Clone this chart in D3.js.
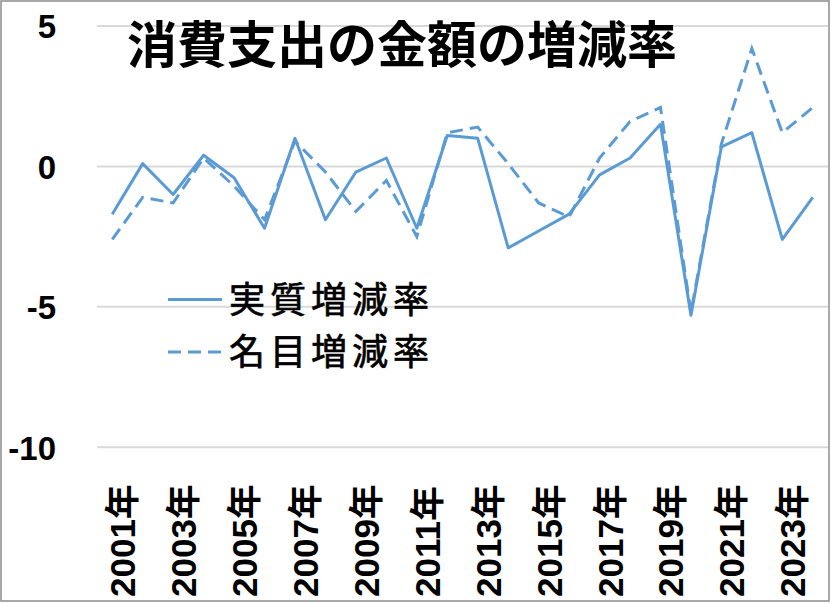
<!DOCTYPE html>
<html>
<head>
<meta charset="utf-8">
<script src="https://cdn.jsdelivr.net/npm/d3@7"></script>
<style>
  html, body { margin: 0; padding: 0; background: #fff; }
  svg { display: block; }
</style>
</head>
<body>
<div class="chart"></div>
<script>
const width = 833
const height = 604

// data
const years = ["2001年","2002年","2003年","2004年","2005年","2006年","2007年","2008年",
  "2009年","2010年","2011年","2012年","2013年","2014年","2015年","2016年",
  "2017年","2018年","2019年","2020年","2021年","2022年","2023年","2024年"]
const realRate = [-1.7, 0.1, -1.0, 0.4, -0.4, -2.2, 1.0, -1.9, -0.2, 0.3, -2.2, 1.1,
  1.0, -2.9, -2.3, -1.7, -0.3, 0.3, 1.5, -5.3, 0.7, 1.2, -2.6, -1.1]
const nominalRate = [-2.6, -1.1, -1.3, 0.3, -0.7, -1.9, 0.9, -0.2, -1.6, -0.5, -2.5, 1.2,
  1.4, 0.1, -1.3, -1.8, 0.3, 1.6, 2.1, -5.2, 0.8, 4.2, 1.2, 2.1]
const yTicks = [5, 0, -5, -10]
const xLabels = years.filter((d, i) => i % 2 === 0)
const seriesNames = ["実質増減率", "名目増減率"]
const title = "消費支出の金額の増減率"

const blue = "#5b9bd5"

const svg = d3.select(".chart")
  .append("svg")
  .attr("width", width)
  .attr("height", height)

// outer frame
svg.append("rect")
  .attr("x", 1).attr("y", 1)
  .attr("width", 828).attr("height", 600)
  .attr("fill", "#fff")
  .attr("stroke", "#8c8c8c")
  .attr("stroke-width", 1.5)

const x = d3.scalePoint()
  .domain(years)
  .range([97, 828])
  .padding(0.5)

const y = d3.scaleLinear()
  .domain([-10, 5])
  .range([447.3, 26])

// gridlines
svg.append("g")
  .selectAll("line")
  .data(yTicks)
  .enter().append("line")
  .attr("x1", 97).attr("x2", 828)
  .attr("y1", d => y(d)).attr("y2", d => y(d))
  .attr("stroke", "#d9d9d9")
  .attr("stroke-width", 2)

// y axis labels (plain hyphen, like the original)
const yAxis = svg.append("g")
  .attr("transform", "translate(56,0)")
  .call(d3.axisLeft(y).tickValues(yTicks).tickSize(0).tickPadding(0)
    .tickFormat(d => String(d)))
yAxis.select(".domain").remove()
yAxis.selectAll("text")
  .attr("font-family", "'Liberation Sans', Arial, sans-serif")
  .attr("font-weight", "bold")
  .attr("font-size", 33)
  .attr("fill", "#000")
  .attr("dy", "0.36em")

// x axis labels, rotated
svg.append("g")
  .selectAll("text")
  .data(xLabels)
  .enter().append("text")
  .attr("transform", d => `translate(${x(d) + 23},597) rotate(-90)`)
  .attr("text-anchor", "start")
  .attr("font-family", "'Liberation Sans', 'Noto Sans CJK JP', sans-serif")
  .attr("font-weight", "bold")
  .attr("font-size", 35)
  .attr("fill", "#000")
  .text(d => d)

// lines
const line = d3.line()
  .x((d, i) => x(years[i]))
  .y(d => y(d))

svg.append("path")
  .datum(realRate)
  .attr("d", line)
  .attr("fill", "none")
  .attr("stroke", blue)
  .attr("stroke-width", 3)
  .attr("stroke-linejoin", "round")

svg.append("path")
  .datum(nominalRate)
  .attr("d", line)
  .attr("fill", "none")
  .attr("stroke", blue)
  .attr("stroke-width", 3)
  .attr("stroke-dasharray", "13,7")

// title
svg.append("text")
  .attr("x", 127)
  .attr("y", 63)
  .attr("font-family", "'Noto Sans CJK JP', sans-serif")
  .attr("font-weight", "bold")
  .attr("font-size", 50)
  .attr("fill", "#000")
  .text(title)

// legend
const legend = svg.append("g")
  .selectAll("g")
  .data(seriesNames)
  .enter().append("g")
  .attr("transform", (d, i) => `translate(168,${299.5 + i * 52.5})`)

legend.append("line")
  .attr("x1", 0).attr("x2", 54)
  .attr("y1", 0).attr("y2", 0)
  .attr("stroke", blue)
  .attr("stroke-width", 3)
  .attr("stroke-dasharray", (d, i) => i === 0 ? null : "13,7")

legend.append("text")
  .attr("x", 61)
  .attr("y", 13)
  .attr("font-family", "'Noto Sans CJK JP', sans-serif")
  .attr("font-size", 36)
  .attr("letter-spacing", 5)
  .attr("fill", "#000")
  .attr("stroke", "#000")
  .attr("stroke-width", 0.7)
  .text(d => d)
</script>
</body>
</html>
